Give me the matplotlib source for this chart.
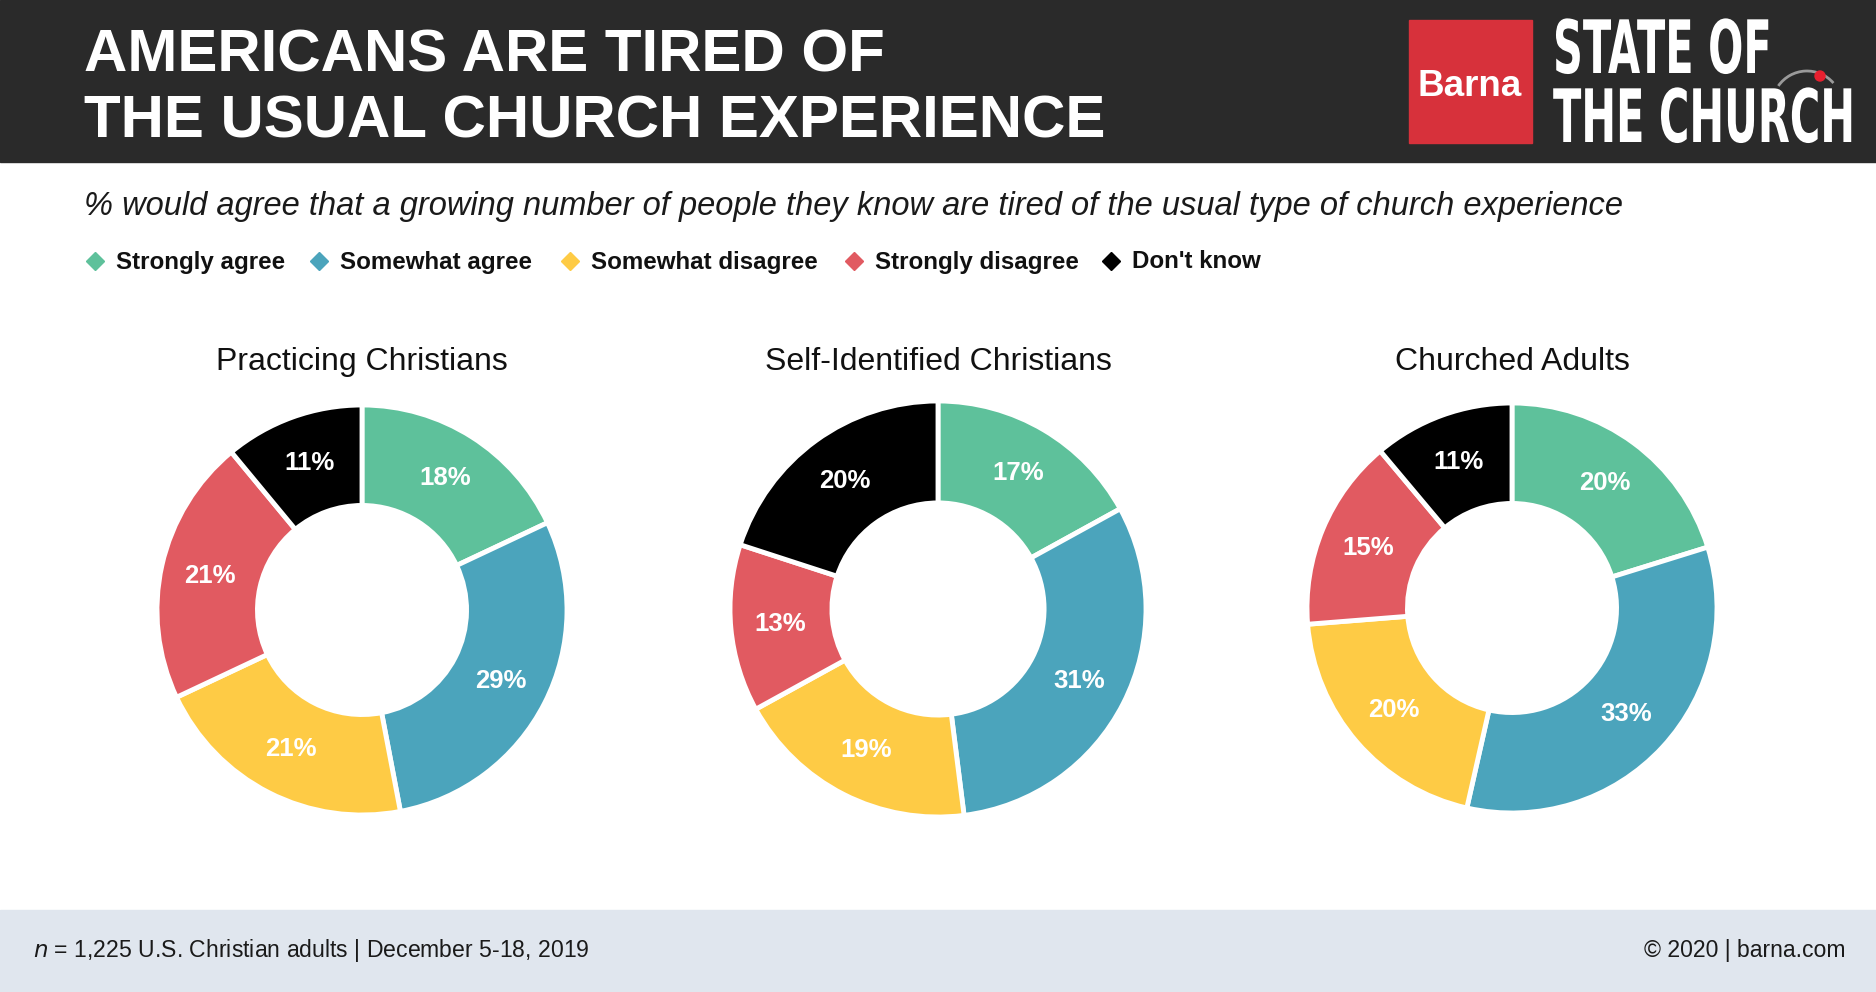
import numpy as np
import matplotlib
matplotlib.use("Agg")
import matplotlib.pyplot as plt
from matplotlib.patches import Rectangle, Circle, Arc
from matplotlib.patheffects import AbstractPathEffect
from matplotlib.transforms import Affine2D

W, H = 1876, 992

# data
categories = ["Strongly agree", "Somewhat agree", "Somewhat disagree",
              "Strongly disagree", "Don't know"]
colors = ["#5ec19b", "#4ba4bc", "#fecb45", "#e15a61", "#000000"]
groups = ["Practicing Christians", "Self-Identified Christians", "Churched Adults"]
practicing = [18, 29, 21, 21, 11]
self_identified = [17, 31, 19, 13, 20]
churched = [20, 33, 20, 15, 11]

plt.rcParams["font.family"] = ["Liberation Sans", "DejaVu Sans"]


class Stretch(AbstractPathEffect):
    # stretch text vertically around baseline y0 (display px) -> condensed look
    def __init__(self, sy, y0):
        super().__init__()
        self.sy, self.y0 = sy, y0

    def draw_path(self, renderer, gc, tpath, affine, rgbFace=None):
        t = affine + Affine2D().translate(0, -self.y0).scale(1, self.sy).translate(0, self.y0)
        renderer.draw_path(gc, tpath, t, rgbFace)


fig = plt.figure(figsize=(W / 100, H / 100), dpi=100)
renderer = fig.canvas.get_renderer()

# full-figure axes in pixel coords, y going down
bg = fig.add_axes([0, 0, 1, 1])
bg.set_xlim(0, W)
bg.set_ylim(H, 0)
bg.axis("off")


def fit(t, width):
    w = t.get_window_extent(renderer).width
    t.set_fontsize(t.get_fontsize() * width / w)
    return t.get_fontsize()


# header
bg.add_patch(Rectangle((0, 0), W, 162, color="#2a2a2a", zorder=0))
t1 = bg.text(84, 72, "AMERICANS ARE TIRED OF", color="white", fontsize=43,
             fontweight="bold", va="baseline")
fs = fit(t1, 801)
bg.text(84, 137, "THE USUAL CHURCH EXPERIENCE", color="white", fontsize=fs,
        fontweight="bold", va="baseline")

# logo
bg.add_patch(Rectangle((1409, 20), 123, 123, color="#d7313b"))
bg.text(1470, 86, "Barna", color="white", fontsize=26.5, fontweight="bold",
        ha="center", va="center")
l2 = bg.text(1553, 142, "THE CHURCH", color="white", fontsize=53,
             fontweight="bold", family="DejaVu Sans", va="baseline")
l1 = bg.text(1553, 73, "STATE OF", color="white", fontsize=53,
             fontweight="bold", family="DejaVu Sans", va="baseline")
k = 302 / l2.get_window_extent(renderer).width
for t, base in [(l1, 73), (l2, 142)]:
    t.set_fontsize(53 * k)
    t.set_path_effects([Stretch(1 / k, H - base)])
bg.add_patch(Arc((1807, 106), 70, 70, theta1=215, theta2=319, color="#9a9a9a", lw=2))
bg.add_patch(Circle((1820, 76), 5, color="#e8202f"))

# subtitle
st = bg.text(84, 207, "% would agree that a growing number of people they know are "
             "tired of the usual type of church experience", fontsize=21,
             style="italic", color="#1a1a1a", va="center")
fit(st, 1540)

# legend
leg_x = [95, 319, 570, 854, 1111]
for i, (lab, c) in enumerate(zip(categories, colors)):
    bg.plot(leg_x[i], 261, marker="D", ms=9.5, color=c, ls="none")
    t = bg.text(leg_x[i] + 21, 262, lab, fontsize=17, fontweight="bold",
                color="#111111", va="center")
    if i == 0:
        lfs = fit(t, 169)
    else:
        t.set_fontsize(lfs)

# donuts
centers = [(362, 610), (938, 609), (1512, 608)]
radii = [205, 208, 205]
pad = 1.1
for name, vals, (cx, cy), R in zip(groups, [practicing, self_identified, churched],
                                   centers, radii):
    r = R * pad
    ax = fig.add_axes([(cx - r) / W, (H - cy - r) / H, 2 * r / W, 2 * r / H])
    wedges, _ = ax.pie(vals, colors=colors, startangle=90, counterclock=False,
                       radius=1, wedgeprops=dict(width=0.49, edgecolor="white",
                                                 linewidth=3.5))
    ax.set_xlim(-pad, pad)
    ax.set_ylim(-pad, pad)
    ax.set_aspect("equal")
    for w, v in zip(wedges, vals):
        ang = np.deg2rad((w.theta1 + w.theta2) / 2)
        ax.text(0.76 * np.cos(ang), 0.76 * np.sin(ang), f"{v}%", color="white",
                fontsize=18.5, fontweight="bold", ha="center", va="center")
    bg.text(cx, 362, name, fontsize=23, color="#111111", ha="center", va="center")

# footer
bg.add_patch(Rectangle((0, 910), W, H - 910, color="#e0e6ee", zorder=0))
ft = bg.text(33, 950, "$n$ = 1,225 U.S. Christian adults | December 5-18, 2019",
             fontsize=16.5, color="#1a1a1a", va="center")
ffs = fit(ft, 557)
bg.text(1846, 950, "© 2020 | barna.com", fontsize=ffs, color="#1a1a1a",
        ha="right", va="center")

fig.savefig("out.png", dpi=100)
